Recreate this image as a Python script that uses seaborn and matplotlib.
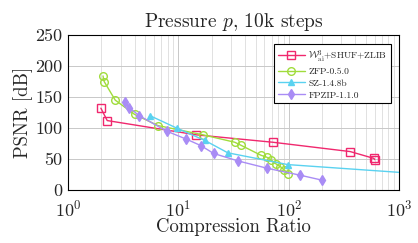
import matplotlib
matplotlib.use("Agg")
import matplotlib.pyplot as plt
import seaborn as sns
import numpy as np
import pandas as pd

# ---- data ----
wai_x = [1.98, 2.26, 14.5, 72, 360, 590, 600]
wai_y = [132, 112, 89, 77, 62, 51, 49]

zfp_x = [2.07, 2.12, 2.67, 4.0, 6.5, 16.7, 32.4, 37, 56, 63, 69.6, 76, 84, 90.7, 99]
zfp_y = [184, 175, 145, 122, 104, 89, 77, 72, 56, 53, 48, 42.5, 37.6, 32.3, 26.3]

sz_x = [5.5, 9.6, 17.3, 28, 98, 1500]
sz_y = [120, 100, 80, 60, 41, 26.3]

fpzip_x = [3.28, 3.57, 4.4, 7.8, 11.8, 16.0, 20.8, 34.5, 64, 126, 199]
fpzip_y = [141.5, 133, 120, 95, 82, 71.5, 59, 47, 35, 24, 16]

labels = [r"$\mathcal{W}^{3}_{\mathrm{ai}}$+SHUF+ZLIB", "ZFP-0.5.0", "SZ-1.4.8b", "FPZIP-1.1.0"]
colors = ["#F0286E", "#A0DC3C", "#5AD2F0", "#A98CF5"]
markers = ["s", "o", "^", "d"]

title = r"Pressure $p$, 10k steps"
xlabel = "Compression Ratio"
ylabel = "PSNR [dB]"
yticks = [0, 50, 100, 150, 200, 250]

sns.set_style("white")
plt.rcParams["font.family"] = ["cmr10", "DejaVu Serif"]
plt.rcParams["mathtext.fontset"] = "cm"
plt.rcParams["axes.formatter.use_mathtext"] = True

fig = plt.figure(figsize=(4.18, 2.43), dpi=100)
ax = fig.add_axes([0.163, 0.218, 0.792, 0.638])

series = [(wai_x, wai_y), (zfp_x, zfp_y), (sz_x, sz_y), (fpzip_x, fpzip_y)]
for (xs, ys), lab, c, m in zip(series, labels, colors, markers):
    df = pd.DataFrame({"x": xs, "y": ys})
    filled = m in ("^", "d")
    sns.lineplot(data=df, x="x", y="y", ax=ax, sort=False, color=c, lw=1.0,
                 marker=m, markersize=5.5 if not filled else 5,
                 markerfacecolor=(c if filled else "none"),
                 markeredgecolor=c, markeredgewidth=1.0, label=lab, zorder=3)

ax.set_xscale("log")
ax.set_xlim(1, 1000)
ax.set_ylim(0, 250)
ax.set_yticks(yticks)
ax.set_yticklabels([str(v) for v in yticks])
ax.grid(True, which="major", color="#c8c8c8", lw=0.7)
ax.grid(True, which="minor", axis="x", color="#dcdcdc", lw=0.6)
ax.set_axisbelow(True)
for s in ax.spines.values():
    s.set_color("black")
    s.set_linewidth(0.8)
ax.tick_params(axis="both", which="both", direction="in", labelsize=13, length=0)
ax.tick_params(axis="y", pad=4)
ax.tick_params(axis="x", pad=6)
ax.set_title(title, fontsize=14, pad=6)
ax.set_xlabel(xlabel, fontsize=13.5, labelpad=-1)
ax.set_ylabel(ylabel, fontsize=13.5, labelpad=2)

leg = ax.legend(loc="upper right", fontsize=6.8, frameon=True, fancybox=False,
                edgecolor="black", framealpha=1, handlelength=2.8,
                borderpad=0.4, labelspacing=0.35, handletextpad=0.4,
                bbox_to_anchor=(0.99, 0.97))
leg.get_frame().set_linewidth(0.8)

fig.savefig("out.png", dpi=100)
